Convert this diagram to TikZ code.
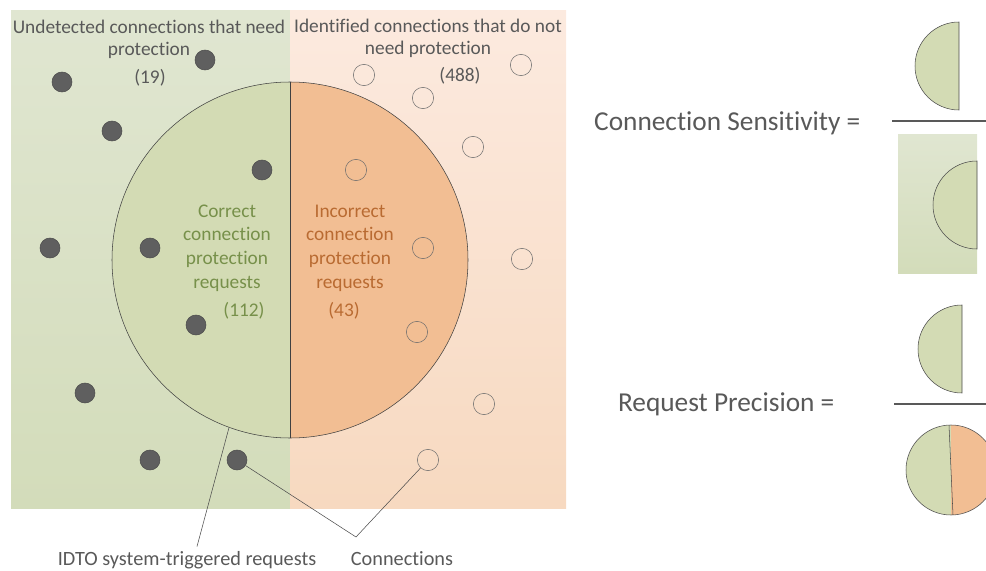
\documentclass[tikz,border=0pt]{standalone}
\usepackage{fontspec}
\setmainfont[RawFeature={-liga;-clig;-calt;-dlig}]{Carlito}
\usetikzlibrary{positioning, calc}

\definecolor{txtgray}{HTML}{595959}
\definecolor{bggreentop}{HTML}{E0E6D1}
\definecolor{bggreenbot}{HTML}{D3DCBA}
\definecolor{bgpeachtop}{HTML}{FCEADF}
\definecolor{bgpeachbot}{HTML}{F7D9C0}
\definecolor{halfgreen}{HTML}{D3DBB4}
\definecolor{halforange}{HTML}{F2BE93}
\definecolor{dotgray}{HTML}{5F5F5F}
\definecolor{greentxt}{HTML}{77904A}
\definecolor{orangetxt}{HTML}{B96B32}

\tikzset{
    dot/.style={circle, fill=dotgray, draw=dotgray!80!black, inner sep=0pt, minimum size=15pt},
    ring/.style={circle, draw=gray!85!black, thin, inner sep=0pt, minimum size=16pt},
    toplabel/.style={text=txtgray, font=\fontsize{14.5}{16.5}\selectfont, align=center},
    biglabel/.style={text=txtgray, font=\fontsize{20.5}{24}\selectfont},
    botlabel/.style={text=txtgray, font=\fontsize{15.2}{17}\selectfont}
}

\begin{document}
\begin{tikzpicture}[x=0.75pt, y=-0.75pt]
    \useasboundingbox (0,0) rectangle (986,571);

    % backgrounds
    \shade[top color=bggreentop, bottom color=bggreenbot] (11,10) rectangle (290,508);
    \shade[top color=bgpeachtop, bottom color=bgpeachbot] (290,10) rectangle (566,508);

    % system-triggered requests
    \fill[halfgreen] (290,82) arc[start angle=270, end angle=90, radius=178] -- cycle;
    \fill[halforange] (290,82) arc[start angle=270, end angle=450, radius=178] -- cycle;
    \node[circle, draw=black!75, inner sep=0pt, minimum size=267pt] (sys) at (290,260) {};
    \draw[black!75] (sys.north) -- (sys.south);

    % connections
    \foreach \x/\y [count=\i] in {205/60, 62/82, 112/131, 262/170, 50/248, 150/248, 196/325, 85/393, 150/460, 237/460}
        \node[dot] (d\i) at (\x,\y) {};
    \foreach \x/\y [count=\i] in {364/75, 521/65, 423/98, 473/147, 356/170, 423/248, 522/259, 417/332, 484/404, 428/460}
        \node[ring] (r\i) at (\x,\y) {};

    \node[toplabel] (undet) at (149,39) {Undetected connections that need\\protection};
    \node[toplabel] (n19) at (150,78) {(19)};
    \node[toplabel] (ident) at (428,38) {Identified connections that do not\\need protection};
    \node[toplabel] (n488) at (460,76) {(488)};

    \node[toplabel, text=greentxt, font=\fontsize{14.5}{17.8}\selectfont] (corr) at (227,248) {Correct\\connection\\protection\\requests};
    \node[toplabel, text=greentxt] (n112) at (244,311) {(112)};
    \node[toplabel, text=orangetxt, font=\fontsize{14.5}{17.8}\selectfont] (incorr) at (350,248) {Incorrect\\connection\\protection\\requests};
    \node[toplabel, text=orangetxt] (n43) at (344,311) {(43)};

    % callouts
    \node[botlabel] (idto) at (187,560) {IDTO system-triggered requests};
    \node[botlabel] (conns) at (402,559) {Connections};
    \coordinate (cv) at (356,537);
    \draw[black!70] (sys.250) -- ($(idto.north)+(10,0)$);
    \draw[black!70] (d10) -- (cv) -- (r10);

    % connection sensitivity
    \node[biglabel, anchor=east] (cs) at (865,123) {Connection Sensitivity =};
    \draw[txtgray, thick] (892,121) -- (986,121);
    \fill[halfgreen, draw=black!70] (959,22) arc[start angle=270, end angle=90, radius=44] -- cycle;
    \shade[top color=bggreentop, bottom color=bggreenbot] (898,134) rectangle (977,273);
    \fill[halfgreen, draw=black!70] (977,161) arc[start angle=270, end angle=90, radius=44] -- cycle;

    % request precision
    \node[biglabel, anchor=east] (rp) at (839,404) {Request Precision =};
    \draw[txtgray, thick] (894,404) -- (986,404);
    \fill[halfgreen, draw=black!70] (962,305) arc[start angle=270, end angle=90, radius=44] -- cycle;
    \begin{scope}
        \clip (0,0) rectangle (986,571);
        \fill[halfgreen] (951,425) arc[start angle=270, end angle=90, radius=45] -- cycle;
        \fill[halforange] (951,425) arc[start angle=270, end angle=450, radius=45] -- cycle;
        \draw[black!70] (951,470) circle[radius=45];
        \draw[black!70] (949,425) -- (953,515);
    \end{scope}
\end{tikzpicture}
\end{document}
